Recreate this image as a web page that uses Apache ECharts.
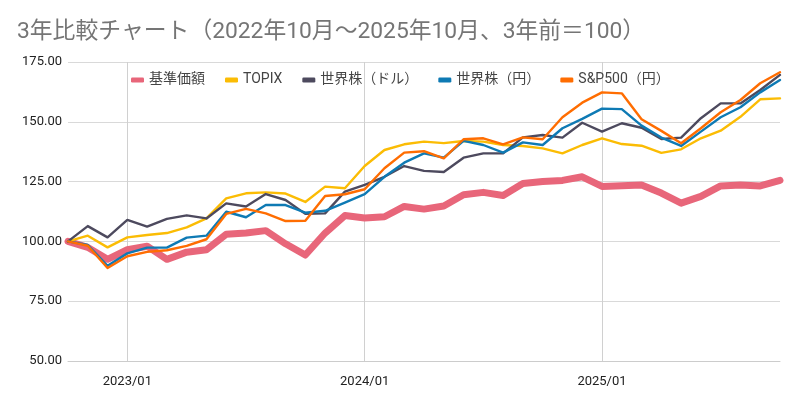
<!DOCTYPE html>
<html>
<head>
<meta charset="utf-8">
<script src="https://cdn.jsdelivr.net/npm/echarts@6/dist/echarts.min.js"></script>
<style>html,body{margin:0;padding:0;background:#fff;}#c{width:800px;height:403px;}</style>
</head>
<body>
<div id="c"></div>
<script>
const months = ["2022/10","2022/11","2022/12","2023/01","2023/02","2023/03","2023/04","2023/05","2023/06","2023/07","2023/08","2023/09","2023/10","2023/11","2023/12","2024/01","2024/02","2024/03","2024/04","2024/05","2024/06","2024/07","2024/08","2024/09","2024/10","2024/11","2024/12","2025/01","2025/02","2025/03","2025/04","2025/05","2025/06","2025/07","2025/08","2025/09","2025/10"];
const seriesNames = ["基準価額","TOPIX","世界株（ドル）","世界株（円）","S&P500（円）"];
const fundNav = [100,97.5,92.5,96.5,98,92.5,95.5,96.5,103,103.5,104.5,99,94.3,103.5,110.8,109.8,110.3,114.6,113.5,114.8,119.5,120.5,119.2,124.2,125,125.5,127,123,123.3,123.6,120.2,116,118.8,123.2,123.6,123.2,125.5];
const topix = [100,102.4,97.5,101.7,102.7,103.5,105.9,109.6,118,120.1,120.5,120,116.5,122.9,122.2,131.5,138.2,140.6,141.7,141.1,142,141.7,140.3,139.9,138.9,136.8,140.3,143.1,140.7,140,137,138.5,143.1,146.3,152.1,159.4,159.8];
const worldUsd = [100,106.4,101.7,109,106.2,109.4,110.9,109.6,115.9,114.6,119.8,117.3,111.5,111.7,120.8,123.6,127,131.5,129.5,129,135,136.8,136.8,143.5,144.5,143.4,149.6,145.9,149.4,147.5,142.8,143.4,151.5,157.7,157.7,163.3,169.6];
const worldJpy = [100,98.5,89.8,95,97.4,97.4,101.6,102.4,112.4,110.1,115.2,115.2,112,112.8,116.2,119.8,127,132.9,136.8,135,142,140.3,137.1,141.4,140.3,147.3,151.2,155.5,155.3,148.4,143.4,139.9,145.9,151.9,156.1,162.3,167.5];
const sp500Jpy = [100,98.2,88.9,93.8,95.6,96.3,98.1,100.9,111.5,113.6,111.7,108.5,108.6,119,119.7,121.8,130.6,137.1,137.7,134.7,142.7,143.1,140.6,143.5,142.7,151.9,158,162.3,161.9,151.1,146.2,141,147.3,154,159.1,166.1,170.7];
const yTicks = [50,75,100,125,150,175];
const colors = ["#e8667a","#fbbc04","#4d4a5e","#0e7ab4","#ff6d01"];
const widths = [7,2.4,2.4,2.4,2.4];
const dataArr = [fundNav, topix, worldUsd, worldJpy, sp500Jpy];

const chart = echarts.init(document.getElementById('c'), null, {renderer:'canvas'});
const isJan = (i, v) => String(v).endsWith('/01');
chart.setOption({
  animation: false,
  color: colors,
  title: {
    text: "3年比較チャート（2022年10月～2025年10月、3年前＝100）",
    left: 12, top: 16,
    textStyle: {fontFamily: "Roboto, 'Noto Sans CJK JP', sans-serif", fontSize: 22.8, fontWeight: 'normal', color: '#757575'}
  },
  legend: {
    left: 126, top: 68,
    icon: 'roundRect', itemWidth: 13, itemHeight: 5, itemGap: 20,
    textStyle: {fontFamily: "Roboto, 'Noto Sans CJK JP', sans-serif", fontSize: 14, color: '#444'},
    data: seriesNames
  },
  grid: {left: 68, right: 20, top: 62, bottom: 42, containLabel: false},
  xAxis: {
    type: 'category', data: months, boundaryGap: false,
    axisLine: {show: true, lineStyle: {color: '#cccccc', width: 1}},
    axisTick: {show: false},
    axisLabel: {interval: isJan, color: '#222', fontSize: 13, fontFamily: 'Roboto, sans-serif', margin: 14},
    splitLine: {show: true, interval: isJan, lineStyle: {color: '#d0d0d0', width: 1}}
  },
  yAxis: {
    type: 'value', min: yTicks[0], max: yTicks[yTicks.length-1], interval: 25,
    axisLine: {show: false}, axisTick: {show: false},
    axisLabel: {formatter: v => v.toFixed(2), color: '#222', fontSize: 13, fontFamily: 'Roboto, sans-serif', margin: 6},
    splitLine: {lineStyle: {color: '#d9d9d9', width: 1}}
  },
  series: seriesNames.map((n, k) => ({
    name: n, type: 'line', data: dataArr[k], showSymbol: false, symbol: 'none',
    lineStyle: {width: widths[k], color: colors[k], join: 'round', cap: 'round'},
    emphasis: {disabled: true}
  }))
});
</script>
</body>
</html>
